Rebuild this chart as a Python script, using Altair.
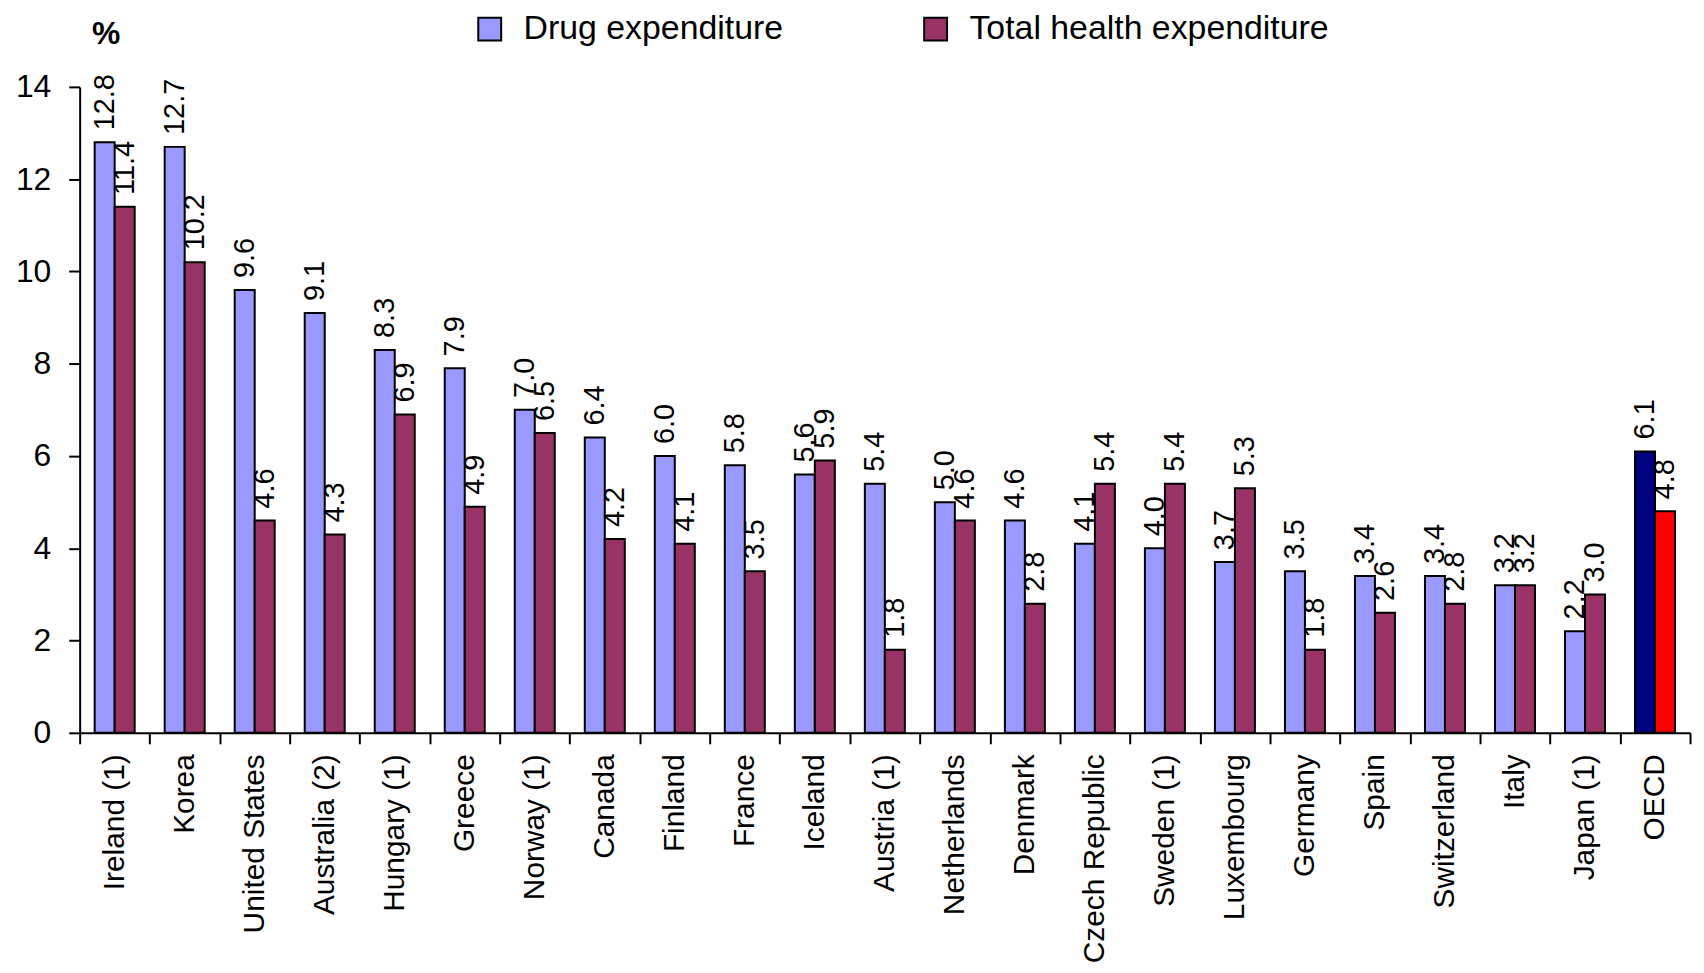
import altair as alt
import pandas as pd

countries = ["Ireland (1)", "Korea", "United States", "Australia (2)", "Hungary (1)",
             "Greece", "Norway (1)", "Canada", "Finland", "France", "Iceland",
             "Austria (1)", "Netherlands", "Denmark", "Czech Republic", "Sweden (1)",
             "Luxembourg", "Germany", "Spain", "Switzerland", "Italy", "Japan (1)", "OECD"]
drug = [12.8, 12.7, 9.6, 9.1, 8.3, 7.9, 7.0, 6.4, 6.0, 5.8, 5.6, 5.4, 5.0, 4.6,
        4.1, 4.0, 3.7, 3.5, 3.4, 3.4, 3.2, 2.2, 6.1]
total = [11.4, 10.2, 4.6, 4.3, 6.9, 4.9, 6.5, 4.2, 4.1, 3.5, 5.9, 1.8, 4.6, 2.8,
         5.4, 5.4, 5.3, 1.8, 2.6, 2.8, 3.2, 3.0, 4.8]
series = ["Drug expenditure", "Total health expenditure"]
color_keys = ["Drug expenditure", "Total health expenditure", "OECD drug", "OECD total"]
colors = ["#9999FF", "#993366", "#000080", "#FF0000"]
y_ticks = [0, 2, 4, 6, 8, 10, 12, 14]

rows = []
for c, d, t in zip(countries, drug, total):
    for s, v in zip(series, [d, t]):
        if c == "OECD":
            key = "OECD drug" if s == series[0] else "OECD total"
        else:
            key = s
        rows.append({"country": c, "series": s, "value": v, "key": key})
df = pd.DataFrame(rows)

FONT = "Liberation Sans"

base = alt.Chart(df).encode(
    x=alt.X("country:N", sort=countries,
            scale=alt.Scale(paddingInner=0, paddingOuter=0),
            axis=alt.Axis(title=None, labelAngle=270, labelFontSize=30, labelFont=FONT,
                          labelColor="black", labelPadding=10, tickBand="extent",
                          tickSize=11, tickWidth=2, tickColor="black",
                          domainColor="black", domainWidth=2, labelLimit=400)),
    xOffset=alt.XOffset("series:N", sort=series,
                        scale=alt.Scale(paddingInner=0, paddingOuter=0.75)),
    y=alt.Y("value:Q", scale=alt.Scale(domain=[0, 14], nice=False),
            axis=alt.Axis(values=y_ticks, grid=False, title="%", titleAngle=0,
                          titleAlign="center", titleBaseline="alphabetic",
                          titleX=26, titleY=-44, titleFontSize=32, titleFont=FONT,
                          titleFontWeight="bold", titleColor="black",
                          labelFontSize=32, labelFont=FONT, labelColor="black",
                          labelPadding=18, tickSize=11, tickWidth=2, tickColor="black",
                          domainColor="black", domainWidth=2)),
)

bars = base.mark_bar(stroke="black", strokeWidth=2).encode(
    color=alt.Color("key:N",
                    scale=alt.Scale(domain=color_keys, range=colors),
                    legend=alt.Legend(values=series, title=None, orient="none",
                                      direction="horizontal", legendX=395, legendY=-75,
                                      labelFontSize=34, labelFont=FONT, labelColor="black",
                                      labelLimit=600,
                                      symbolType="square", symbolSize=529,
                                      symbolStrokeColor="black", symbolStrokeWidth=2,
                                      symbolOpacity=1,
                                      labelOffset=17, columnPadding=136))
)

labels = base.mark_text(angle=270, align="left", baseline="middle", dx=12,
                        fontSize=29, font=FONT, color="black").encode(
    text=alt.Text("value:Q", format=".1f")
)

chart = (bars + labels).properties(
    width=1618, height=649,
    autosize=alt.AutoSizeParams(type="none"),
    padding={"left": 72, "top": 77, "right": 6, "bottom": 230},
).configure_view(stroke=None)

chart.save("out.html", embed_options={"renderer": "svg", "actions": False})
